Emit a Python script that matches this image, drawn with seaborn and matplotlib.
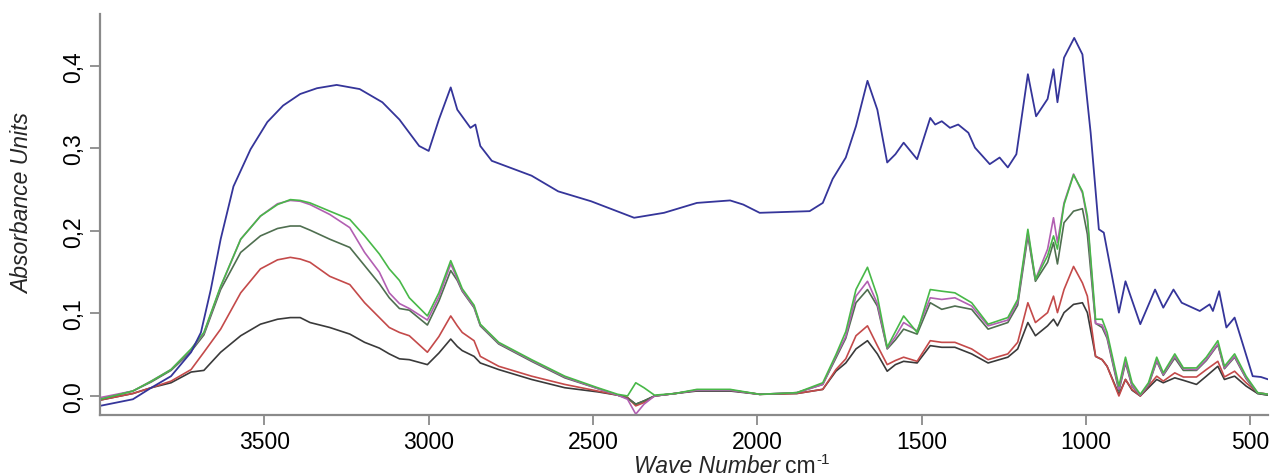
import numpy as np
import pandas as pd
import matplotlib
matplotlib.use("Agg")
import matplotlib.pyplot as plt
from matplotlib.ticker import FuncFormatter
import seaborn as sns

# wavenumber grid for the five lower spectra
wn = [4000, 3900, 3844, 3784, 3723, 3684, 3633, 3572, 3512, 3460, 3421, 3391, 3361, 3301, 3240,
      3195, 3150, 3120, 3089, 3059, 3004, 2969, 2933, 2913, 2898, 2862, 2843, 2787, 2687, 2586, 2486, 2425,
      2395, 2370, 2345, 2313, 2250, 2184, 2083, 1993, 1880, 1801, 1761, 1731, 1700, 1665, 1635,
      1605, 1580, 1555, 1514, 1474, 1439, 1399, 1348, 1298, 1238, 1208, 1177, 1154, 1117, 1099,
      1087, 1067, 1038, 1011, 996, 971, 951, 936, 900, 880, 860, 835, 810, 785, 765,
      730, 704, 664, 634, 599, 579, 548, 513, 478, 445]

green = [-0.004, 0.006, 0.018, 0.032, 0.057, 0.077, 0.133, 0.190, 0.218, 0.232, 0.238, 0.237, 0.234, 0.224, 0.214,
         0.194, 0.172, 0.154, 0.140, 0.119, 0.097, 0.125, 0.164, 0.145, 0.130, 0.110, 0.087, 0.065, 0.044, 0.024, 0.010, 0.002,
         0.000, 0.016, 0.010, 0.001, 0.003, 0.008, 0.008, 0.002, 0.004, 0.016, 0.050, 0.078, 0.129, 0.156, 0.121,
         0.059, 0.078, 0.097, 0.077, 0.129, 0.127, 0.125, 0.113, 0.087, 0.095, 0.117, 0.202, 0.141, 0.170, 0.194,
         0.178, 0.232, 0.268, 0.248, 0.218, 0.093, 0.093, 0.077, 0.012, 0.047, 0.016, 0.002, 0.016, 0.047, 0.028,
         0.051, 0.034, 0.034, 0.047, 0.067, 0.036, 0.051, 0.024, 0.004, 0.002]

magenta = [-0.002, 0.006, 0.018, 0.032, 0.056, 0.076, 0.132, 0.190, 0.218, 0.233, 0.237, 0.236, 0.232, 0.220, 0.204,
           0.174, 0.150, 0.125, 0.112, 0.106, 0.092, 0.120, 0.160, 0.142, 0.128, 0.108, 0.086, 0.064, 0.043, 0.023, 0.009, 0.001,
           -0.004, -0.022, -0.010, 0.000, 0.003, 0.007, 0.007, 0.002, 0.004, 0.014, 0.048, 0.072, 0.121, 0.139, 0.112,
           0.058, 0.072, 0.089, 0.079, 0.119, 0.117, 0.119, 0.109, 0.085, 0.092, 0.114, 0.198, 0.141, 0.178, 0.216,
           0.186, 0.234, 0.269, 0.246, 0.214, 0.088, 0.086, 0.072, 0.008, 0.042, 0.013, 0.001, 0.014, 0.043, 0.026,
           0.048, 0.033, 0.032, 0.044, 0.063, 0.034, 0.048, 0.022, 0.004, 0.002]

dark_green = [-0.004, 0.006, 0.017, 0.031, 0.054, 0.074, 0.129, 0.174, 0.194, 0.203, 0.206, 0.206, 0.201, 0.190, 0.180,
              0.158, 0.136, 0.119, 0.106, 0.104, 0.086, 0.115, 0.152, 0.140, 0.127, 0.107, 0.085, 0.063, 0.042, 0.022, 0.009, 0.001,
              -0.003, -0.010, -0.006, 0.000, 0.003, 0.007, 0.007, 0.002, 0.004, 0.014, 0.046, 0.070, 0.113, 0.129, 0.109,
              0.057, 0.068, 0.081, 0.075, 0.113, 0.105, 0.109, 0.105, 0.081, 0.089, 0.110, 0.194, 0.139, 0.162, 0.186,
              0.160, 0.210, 0.224, 0.227, 0.196, 0.088, 0.083, 0.070, 0.006, 0.040, 0.012, 0.001, 0.013, 0.042, 0.025,
              0.046, 0.031, 0.031, 0.043, 0.062, 0.033, 0.047, 0.021, 0.003, 0.001]

red = [-0.005, 0.003, 0.010, 0.018, 0.032, 0.053, 0.081, 0.125, 0.154, 0.165, 0.168, 0.166, 0.162, 0.145, 0.135,
       0.113, 0.095, 0.083, 0.077, 0.073, 0.053, 0.072, 0.097, 0.085, 0.077, 0.067, 0.048, 0.036, 0.024, 0.014, 0.006, 0.001,
       -0.002, -0.012, -0.008, 0.000, 0.003, 0.007, 0.007, 0.002, 0.003, 0.008, 0.032, 0.045, 0.073, 0.085, 0.061,
       0.038, 0.043, 0.047, 0.042, 0.067, 0.065, 0.065, 0.057, 0.044, 0.051, 0.065, 0.113, 0.089, 0.101, 0.121,
       0.101, 0.129, 0.157, 0.137, 0.121, 0.048, 0.044, 0.036, 0.000, 0.020, 0.008, 0.000, 0.012, 0.024, 0.018,
       0.028, 0.023, 0.023, 0.032, 0.042, 0.023, 0.030, 0.016, 0.004, 0.002]

black = [-0.005, 0.003, 0.010, 0.016, 0.029, 0.031, 0.053, 0.073, 0.087, 0.093, 0.095, 0.095, 0.089, 0.083, 0.075,
         0.065, 0.058, 0.051, 0.045, 0.044, 0.038, 0.052, 0.069, 0.060, 0.055, 0.048, 0.040, 0.032, 0.020, 0.010, 0.005, 0.001,
         -0.002, -0.010, -0.006, 0.000, 0.003, 0.006, 0.006, 0.002, 0.003, 0.008, 0.030, 0.040, 0.057, 0.067, 0.051,
         0.030, 0.038, 0.042, 0.040, 0.061, 0.059, 0.059, 0.051, 0.040, 0.047, 0.057, 0.089, 0.073, 0.085, 0.093,
         0.085, 0.101, 0.111, 0.113, 0.101, 0.048, 0.044, 0.036, 0.002, 0.020, 0.007, 0.000, 0.010, 0.020, 0.016,
         0.022, 0.019, 0.014, 0.024, 0.036, 0.020, 0.024, 0.012, 0.003, 0.001]

# top spectrum has its own grid
wn_blue = [4000, 3900, 3844, 3784, 3723, 3693, 3663, 3633, 3594, 3542, 3491, 3443, 3391, 3340, 3280,
           3210, 3141, 3089, 3029, 3000, 2969, 2933, 2913, 2873, 2858, 2843, 2808, 2687, 2606, 2506,
           2375, 2284, 2184, 2083, 2043, 1993, 1841, 1801, 1771, 1731, 1700, 1665, 1635, 1605, 1580,
           1555, 1514, 1474, 1459, 1439, 1414, 1389, 1358, 1338, 1293, 1263, 1238, 1212, 1177, 1152,
           1117, 1099, 1087, 1067, 1036, 1011, 986, 961, 946, 900, 880, 835, 790, 765, 734,
           709, 654, 624, 614, 595, 573, 548, 493, 468, 445]
blue = [-0.012, -0.004, 0.010, 0.024, 0.053, 0.077, 0.129, 0.190, 0.254, 0.299, 0.332, 0.352, 0.366, 0.373, 0.377,
        0.372, 0.356, 0.335, 0.303, 0.297, 0.335, 0.374, 0.347, 0.325, 0.329, 0.303, 0.285, 0.267, 0.248, 0.236,
        0.216, 0.222, 0.234, 0.237, 0.232, 0.222, 0.224, 0.234, 0.263, 0.289, 0.327, 0.382, 0.347, 0.283, 0.293,
        0.307, 0.287, 0.337, 0.329, 0.333, 0.325, 0.329, 0.319, 0.301, 0.281, 0.289, 0.277, 0.293, 0.390, 0.339,
        0.360, 0.396, 0.356, 0.410, 0.434, 0.414, 0.319, 0.202, 0.198, 0.101, 0.139, 0.087, 0.129, 0.107, 0.129,
        0.113, 0.103, 0.111, 0.103, 0.127, 0.083, 0.095, 0.024, 0.023, 0.020]

series = {"black": black, "red": red, "dark_green": dark_green, "magenta": magenta, "green": green}
colors = {"black": "#3a3a3a", "red": "#c44a4a", "dark_green": "#4f6f50",
          "magenta": "#b25fb2", "green": "#48b848"}

sns.set_theme(style="ticks")
plt.rcParams["font.family"] = ["Liberation Sans", "DejaVu Sans"]

df = pd.concat([pd.DataFrame({"wn": wn, "A": v, "sample": k}) for k, v in series.items()])

fig = plt.figure(figsize=(12.71, 4.77), dpi=100)
ax = fig.add_axes([0.0787, 0.128, 0.9193, 0.8406])

sns.lineplot(data=df, x="wn", y="A", hue="sample", palette=colors, estimator=None,
             linewidth=1.2, legend=False, ax=ax)
sns.lineplot(x=wn_blue, y=blue, color="#35359a", estimator=None, linewidth=1.3, ax=ax)

ax.set_xlim(4000, 445)
ax.set_ylim(-0.023, 0.463)
ax.set_xticks([3500, 3000, 2500, 2000, 1500, 1000, 500])
ax.set_yticks([0.0, 0.1, 0.2, 0.3, 0.4])
ax.yaxis.set_major_formatter(FuncFormatter(lambda v, p: f"{v:.1f}".replace(".", ",")))
for lab in ax.get_yticklabels():
    lab.set_rotation(90)
    lab.set_va("center")

sns.despine(ax=ax)
for s in ["left", "bottom"]:
    ax.spines[s].set_color("#8a8a8a")
    ax.spines[s].set_linewidth(1.6)
ax.tick_params(colors="#8a8a8a", labelcolor="black", labelsize=16.5, length=7, width=1.3)

ax.set_xlabel("")
ax.set_ylabel("Absorbance Units", fontsize=16.5, style="italic")
ax.yaxis.set_label_coords(-0.056, 0.53)

# x label: italic name, upright unit with a small superscript
ax.text(0.582, -0.142, "Wave Number", transform=ax.transAxes, ha="right", va="baseline",
        fontsize=16.5, style="italic")
unit = ax.text(0.586, -0.142, "cm", transform=ax.transAxes, ha="left", va="baseline", fontsize=16.5)
ax.annotate("-1", xy=(1.0, 1.0), xycoords=unit, xytext=(1, 1), textcoords="offset points",
            ha="left", va="top", fontsize=11)

fig.savefig("out.png", dpi=100)
